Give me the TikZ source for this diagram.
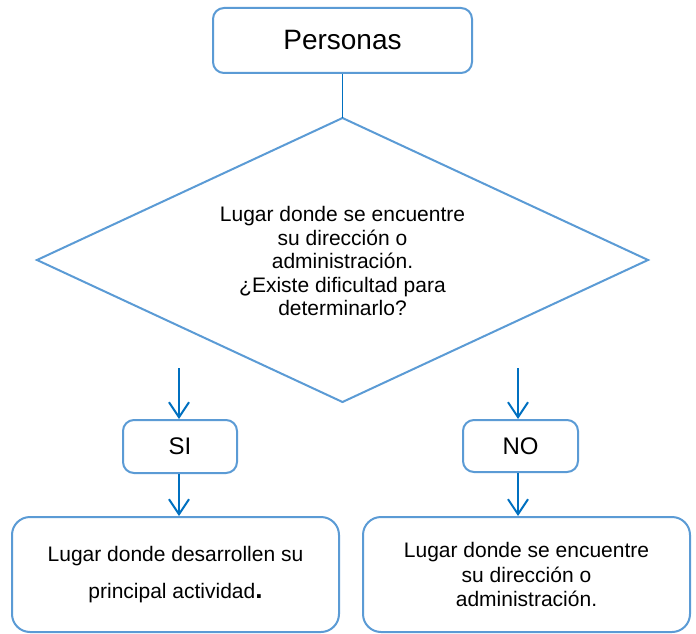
\documentclass[tikz,border=0pt]{standalone}
\usepackage{fontspec}
\setmainfont{Liberation Sans}
\usetikzlibrary{shapes.geometric,arrows.meta}
\definecolor{boxblue}{RGB}{91,155,213}
\definecolor{arrowblue}{RGB}{0,112,192}
\tikzset{
  box/.style={draw=boxblue, line width=2pt, rounded corners=11pt, fill=white, inner sep=0pt, align=center},
  bigbox/.style={box, rounded corners=18pt},
  arr/.style={draw=arrowblue, line width=2pt, -{Straight Barb[length=15pt,width=20pt,line width=2pt]}},
  link/.style={draw=arrowblue, line width=1.3pt},
}
\begin{document}
\begin{tikzpicture}[x=1pt,y=-1pt]
\useasboundingbox (0,0) rectangle (696,634);
\node[box, minimum width=259pt, minimum height=65pt, font=\fontsize{28}{32}\selectfont] (pers) at (342.5,40.5) {Personas};
\node[draw=boxblue, line width=2pt, shape=diamond, minimum width=611pt, minimum height=284pt, inner sep=0pt, outer sep=0pt] (dec) at (342.5,260) {};
\node[align=center, inner sep=0pt, font=\fontsize{21}{23.5}\selectfont] (dectext) at (342.5,261) {Lugar donde se encuentre\\su dirección o\\administración.\\¿Existe dificultad para\\determinarlo?};
\draw[link] (pers.south) -- (dec.north);
\node[box, minimum width=114pt, minimum height=53pt, font=\fontsize{24}{28}\selectfont] (si) at (180,446.5) {SI};
\node[box, minimum width=115pt, minimum height=52pt, font=\fontsize{24}{28}\selectfont] (no) at (520.5,446) {NO};
\node[bigbox, minimum width=327pt, minimum height=115pt, font=\fontsize{21}{37}\selectfont] (bl) at (175.5,574.5) {Lugar donde desarrollen su\\principal actividad{\fontsize{26}{37}\selectfont\textbf{.}}};
\node[bigbox, minimum width=327pt, minimum height=115pt, font=\fontsize{21}{24.5}\selectfont] (br) at (526.5,574.5) {Lugar donde se encuentre\\su dirección o\\administración.};
\coordinate (sistart) at (179,368);
\coordinate (nostart) at (518,368);
\draw[arr] (sistart) -- (sistart |- si.north);
\draw[arr] (nostart) -- (nostart |- no.north);
\draw[arr] (si.south -| sistart) -- (sistart |- bl.north);
\draw[arr] (no.south -| nostart) -- (nostart |- br.north);
\end{tikzpicture}
\end{document}
